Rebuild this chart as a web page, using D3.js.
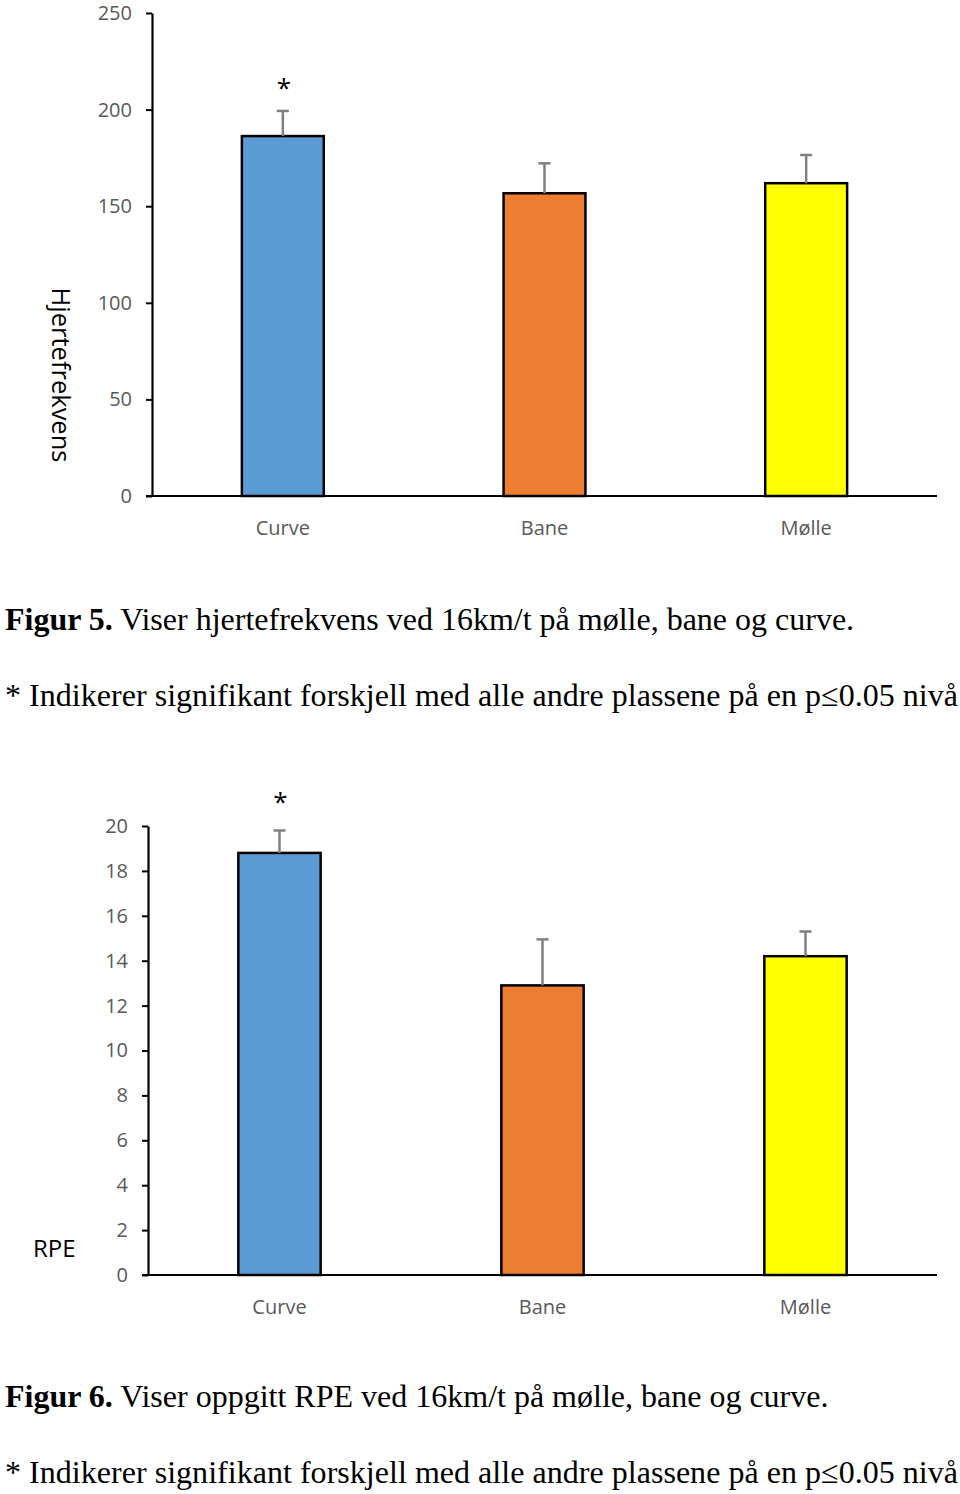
<!DOCTYPE html>
<html><head><meta charset="utf-8">
<script src="https://cdn.jsdelivr.net/npm/d3@7"></script>
<style>body{margin:0;background:#fff}svg{display:block}</style>
</head><body>
<svg id="c" width="960" height="1494"></svg>
<script>
const categories = ["Curve", "Bane", "Mølle"];
const colors = ["#5b9bd5", "#ed7d31", "#ffff00"];
const hrValues = [186.3, 156.7, 161.9];
const hrErrors = [13.0, 15.5, 14.6];
const hrTicks = [0, 50, 100, 150, 200, 250];
const rpeValues = [18.8, 12.9, 14.2];
const rpeErrors = [1.0, 2.05, 1.1];
const rpeTicks = [0, 2, 4, 6, 8, 10, 12, 14, 16, 18, 20];
const sigFlags = [true, false, false];

const svg = d3.select("#c");
const sans = "'Open Sans', sans-serif";
const serif = "'Liberation Serif', 'Times New Roman', serif";

function chart(cfg) {
  const g = svg.append("g");
  const x = d3.scaleBand().domain(categories).range([cfg.x0, cfg.x1])
    .paddingInner(0.687).paddingOuter(0.3435);
  const y = d3.scaleLinear().domain([0, cfg.max]).range([cfg.yb, cfg.yt]);

  g.selectAll("rect.bar").data(cfg.values).join("rect")
    .attr("x", (d, i) => x(categories[i]))
    .attr("y", d => y(d))
    .attr("width", x.bandwidth())
    .attr("height", d => y(0) - y(d))
    .attr("fill", (d, i) => colors[i])
    .attr("stroke", "#000").attr("stroke-width", 2.5);

  cfg.values.forEach((v, i) => {
    const cx = x(categories[i]) + x.bandwidth() / 2;
    const top = y(v + cfg.errors[i]);
    g.append("line").attr("x1", cx).attr("x2", cx).attr("y1", y(v)).attr("y2", top)
      .attr("stroke", "#7f7f7f").attr("stroke-width", 2.5);
    g.append("line").attr("x1", cx - 6).attr("x2", cx + 6).attr("y1", top).attr("y2", top)
      .attr("stroke", "#7f7f7f").attr("stroke-width", 2.5);
    if (sigFlags[i]) {
      g.append("text").attr("x", cx + 1).attr("y", top - cfg.starGap)
        .attr("text-anchor", "middle").attr("font-family", sans)
        .attr("font-size", 26).attr("fill", "#000").text("*");
    }
  });

  const ax = g.append("g").attr("transform", `translate(${cfg.x0},0)`)
    .call(d3.axisLeft(y).tickValues(cfg.ticks).tickSize(6).tickPadding(14).tickSizeOuter(0));
  ax.select(".domain").attr("stroke", "#000").attr("stroke-width", 2.2);
  ax.selectAll(".tick line").attr("stroke", "#000").attr("stroke-width", 2);
  ax.selectAll(".tick text").attr("font-family", sans).attr("font-size", 20).attr("fill", "#595959");

  g.append("line").attr("x1", cfg.x0 - 6).attr("x2", cfg.x1).attr("y1", y(0)).attr("y2", y(0))
    .attr("stroke", "#000").attr("stroke-width", 2.2);

  g.selectAll("text.cat").data(categories).join("text")
    .attr("x", d => x(d) + x.bandwidth() / 2)
    .attr("y", cfg.yb + 39)
    .attr("text-anchor", "middle").attr("font-family", sans).attr("font-size", 20)
    .attr("fill", "#595959").text(d => d);

  const cap = g.append("text").attr("x", 5).attr("y", cfg.capY)
    .attr("font-family", serif).attr("font-size", 32).attr("fill", "#000");
  cap.append("tspan").attr("font-weight", "bold").text(cfg.figLabel);
  cap.append("tspan").text(cfg.capText);
  g.append("text").attr("x", 5).attr("y", cfg.capY + 76)
    .attr("font-family", serif).attr("font-size", 32).attr("fill", "#000")
    .attr("textLength", 953).attr("lengthAdjust", "spacing")
    .text("* Indikerer signifikant forskjell med alle andre plassene på en p≤0.05 nivå");
  return g;
}

const g1 = chart({x0: 152, x1: 937, yb: 496, yt: 13, max: 250, ticks: hrTicks,
  values: hrValues, errors: hrErrors, starGap: 14,
  figLabel: "Figur 5.", capText: " Viser hjertefrekvens ved 16km/t på mølle, bane og curve.", capY: 630});
g1.append("text").attr("transform", "translate(52,375) rotate(90)")
  .attr("text-anchor", "middle").attr("font-family", sans).attr("font-size", 25.5)
  .attr("fill", "#000").text("Hjertefrekvens");

const g2 = chart({x0: 148, x1: 937, yb: 1275, yt: 826, max: 20, ticks: rpeTicks,
  values: rpeValues, errors: rpeErrors, starGap: 19,
  figLabel: "Figur 6.", capText: " Viser oppgitt RPE ved 16km/t på mølle, bane og curve.", capY: 1407});
g2.append("text").attr("x", 33).attr("y", 1257)
  .attr("font-family", sans).attr("font-size", 24).attr("fill", "#000").text("RPE");
</script>
</body></html>
